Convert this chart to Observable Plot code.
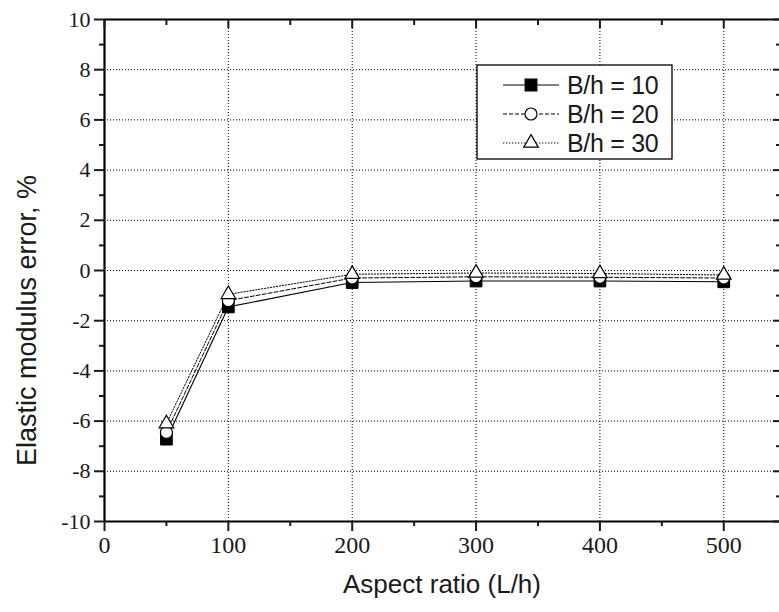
<!DOCTYPE html>
<html>
<head>
<meta charset="utf-8">
<script src="https://cdn.jsdelivr.net/npm/d3@7"></script>
<script src="https://cdn.jsdelivr.net/npm/@observablehq/plot@0.6"></script>
<style>
  html, body { margin: 0; padding: 0; background: #fff; }
  #chart svg { display: block; }
</style>
</head>
<body>
<div id="chart"></div>
<script>
// ---- data ----
const aspect = [50, 100, 200, 300, 400, 500];
const bh10 = [-6.72, -1.45, -0.48, -0.42, -0.42, -0.45];
const bh20 = [-6.45, -1.2, -0.3, -0.25, -0.27, -0.3];
const bh30 = [-6.1, -0.95, -0.15, -0.1, -0.12, -0.18];
const seriesNames = ["B/h = 10", "B/h = 20", "B/h = 30"];
const xMajor = [0, 100, 200, 300, 400, 500];
const xMinor = [50, 150, 250, 350, 450];
const yMajor = [-10, -8, -6, -4, -2, 0, 2, 4, 6, 8, 10];
const yMinor = [-9, -7, -5, -3, -1, 1, 3, 5, 7, 9];
const xGrid = [100, 200, 300, 400, 500];
const yGrid = [-8, -6, -4, -2, 0, 2, 4, 6, 8];
const xTitle = "Aspect ratio (L/h)";
const yTitle = "Elastic modulus error, %";

const toRows = (vals, name) => aspect.map((a, i) => ({x: a, y: vals[i], s: name}));
const d10 = toRows(bh10, seriesNames[0]);
const d20 = toRows(bh20, seriesNames[1]);
const d30 = toRows(bh30, seriesNames[2]);

const serif = "'Liberation Serif', 'Times New Roman', serif";
const sans = "'Liberation Sans', Arial, sans-serif";

const plot = Plot.plot({
  width: 779,
  height: 612,
  marginLeft: 104,
  marginTop: 19,
  marginBottom: 91,
  marginRight: 0,
  style: {background: "#fff", color: "#1a1a1a", overflow: "visible"},
  x: {domain: [0, 545]},
  y: {domain: [-10, 10]},
  marks: [
    Plot.gridX(xGrid, {stroke: "#000", strokeOpacity: 1, strokeDasharray: "1,2", strokeWidth: 1}),
    Plot.gridY(yGrid, {stroke: "#000", strokeOpacity: 1, strokeDasharray: "1,2", strokeWidth: 1}),
    Plot.line(d10, {x: "x", y: "y", stroke: "#000", strokeWidth: 1.1}),
    Plot.line(d20, {x: "x", y: "y", stroke: "#000", strokeWidth: 1, strokeDasharray: "4,2"}),
    Plot.line(d30, {x: "x", y: "y", stroke: "#000", strokeWidth: 1, strokeDasharray: "1.3,1.7"}),
    Plot.dot(d10, {x: "x", y: "y", symbol: "square", r: 6.6, fill: "#000", stroke: "#000", strokeWidth: 1}),
    Plot.dot(d20, {x: "x", y: "y", symbol: "circle", r: 6, fill: "#fff", stroke: "#000", strokeWidth: 1.2}),
    Plot.dot(d30, {x: "x", y: "y", symbol: "triangle", r: 5.4, fill: "#fff", stroke: "#000", strokeWidth: 1.2}),
    // frame lines
    Plot.ruleX([0], {stroke: "#000", strokeWidth: 2.2}),
    Plot.ruleY([-10, 10], {stroke: "#000", strokeWidth: 2.2}),
    // bottom axis
    Plot.axisX(xMajor, {anchor: "bottom", tickSize: 10, tickPadding: 4, tickFormat: d => String(d), fontSize: 24, fontFamily: serif, strokeWidth: 2, label: null}),
    Plot.axisX(xMinor, {anchor: "bottom", tickSize: 5, tickFormat: () => "", strokeWidth: 2, label: null}),
    // top axis (inward ticks)
    Plot.axisX(xMajor, {anchor: "top", tickSize: -8, tickFormat: () => "", strokeWidth: 2, label: null}),
    Plot.axisX(xMinor, {anchor: "top", tickSize: -5, tickFormat: () => "", strokeWidth: 2, label: null}),
    // left axis
    Plot.axisY(yMajor, {anchor: "left", tickSize: 10, tickPadding: 4, tickFormat: d => String(d), fontSize: 22, fontFamily: serif, strokeWidth: 2, label: null}),
    Plot.axisY(yMinor, {anchor: "left", tickSize: 5, tickFormat: () => "", strokeWidth: 2, label: null}),
    // right axis (inward ticks)
    Plot.axisY(yMajor, {anchor: "right", tickSize: -7, tickFormat: () => "", strokeWidth: 2, label: null}),
    Plot.axisY(yMinor, {anchor: "right", tickSize: -4, tickFormat: () => "", strokeWidth: 2, label: null}),
    // axis titles
    Plot.text([xTitle], {text: d => d, frameAnchor: "bottom", dy: 71, fontSize: 26, fontFamily: sans, fill: "#1a1a1a", style: {letterSpacing: "-0.4px"}}),
    Plot.text([yTitle], {text: d => d, frameAnchor: "left", textAnchor: "middle", rotate: -90, dx: -77, dy: 50, fontSize: 27, fontFamily: sans, fill: "#1a1a1a", style: {letterSpacing: "1.2px"}})
  ]
});

document.getElementById("chart").appendChild(plot);

// ---- legend ----
const svg = d3.select(plot);
const lg = svg.append("g").attr("class", "legend").attr("text-anchor", "start");
const box = {x: 477, y: 65, w: 195, h: 94};
lg.append("rect").attr("x", box.x).attr("y", box.y).attr("width", box.w).attr("height", box.h)
  .attr("fill", "#fff").attr("stroke", "#000").attr("stroke-width", 1.3);
const rowsY = [85, 114, 143];
const dashes = [null, "4,2", "1.3,1.7"];
const symbols = [d3.symbolSquare, d3.symbolCircle, d3.symbolTriangle];
const symR = [6.6, 6, 5.4];
const fills = ["#000", "#fff", "#fff"];
seriesNames.forEach((name, i) => {
  const y = rowsY[i];
  lg.append("line").attr("x1", 503).attr("x2", 559).attr("y1", y).attr("y2", y)
    .attr("stroke", "#000").attr("stroke-width", 1).attr("stroke-dasharray", dashes[i]);
  lg.append("path").attr("d", d3.symbol(symbols[i], Math.PI * symR[i] * symR[i])())
    .attr("transform", `translate(531,${y})`).attr("fill", fills[i]).attr("stroke", "#000").attr("stroke-width", 1.2);
  lg.append("text").attr("x", 567).attr("y", y).attr("dy", "0.36em").attr("text-anchor", "start")
    .attr("font-family", sans).attr("font-size", 25).attr("fill", "#1a1a1a").attr("letter-spacing", "-0.3px")
    .text(name);
});
</script>
</body>
</html>
